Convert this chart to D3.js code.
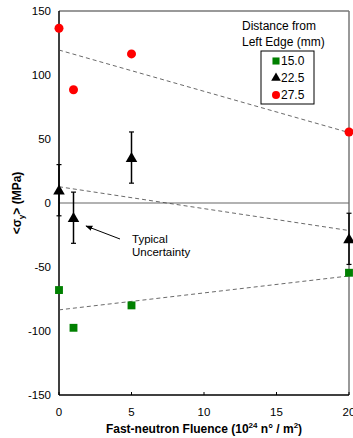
<!DOCTYPE html>
<meta charset="utf-8">
<style>
  body { margin: 0; background: #fff; }
  text { font-family: "Liberation Sans", Arial, sans-serif; fill: #000; }
  .tick-label { font-size: 11.5px; }
  .axis-title { font-size: 12px; font-weight: bold; }
  .legend-text { font-size: 12px; }
</style>
<svg width="353" height="438"></svg>
<script src="https://d3js.org/d3.v7.min.js"></script>
<script>

  // data
  var fluence = [0, 1, 5, 20];
  var s150 = [-68, -97.5, -80, -54.5];
  var s225 = [10, -11.5, 35.5, -28];
  var s225err = [20, 20, 20, 20];
  var s275 = [136.5, 88.5, 116.5, 55.5];
  // dashed linear fits, values at x = 0 and x = 20
  var fit150 = [-83.5, -57];
  var fit225 = [12.7, -21.5];
  var fit275 = [119.5, 55];
  var xTicks = [0, 5, 10, 15, 20];
  var yTicks = [-150, -100, -50, 0, 50, 100, 150];
  var legendNames = ["15.0", "22.5", "27.5"];

  var svg = d3.select("svg"),
      pl = 59, pr = 349, pt = 11, pb = 395;

  var x = d3.scaleLinear().domain([0, 20]).range([pl, pr]);
  var y = d3.scaleLinear().domain([-150, 150]).range([pb, pt]);

  // frame
  svg.append("line").attr("x1", pl).attr("x2", pr).attr("y1", pt).attr("y2", pt)
      .attr("stroke", "#777").attr("stroke-width", 1.5);
  svg.append("line").attr("x1", pr).attr("x2", pr).attr("y1", pt).attr("y2", pb)
      .attr("stroke", "#777").attr("stroke-width", 1.5);
  svg.append("line").attr("x1", pl).attr("x2", pr).attr("y1", y(0)).attr("y2", y(0))
      .attr("stroke", "#666").attr("stroke-width", 1.2);

  // axes
  svg.append("line").attr("x1", pl).attr("x2", pl).attr("y1", pt).attr("y2", pb)
      .attr("stroke", "#000").attr("stroke-width", 1.5);
  svg.append("line").attr("x1", pl).attr("x2", pr).attr("y1", pb).attr("y2", pb)
      .attr("stroke", "#000").attr("stroke-width", 1.5);

  svg.selectAll(".xtick").data(xTicks).enter().append("line")
      .attr("x1", function (d) { return x(d); }).attr("x2", function (d) { return x(d); })
      .attr("y1", pb).attr("y2", pb - 3)
      .attr("stroke", "#000");

  svg.selectAll(".xlab").data(xTicks).enter().append("text")
      .attr("class", "tick-label")
      .attr("x", function (d) { return x(d); }).attr("y", 416)
      .attr("text-anchor", "middle")
      .text(function (d) { return d; });

  svg.selectAll(".ylab").data(yTicks).enter().append("text")
      .attr("class", "tick-label")
      .attr("x", 51).attr("y", function (d) { return y(d) + 4; })
      .attr("text-anchor", "end")
      .text(function (d) { return d; });

  // axis titles
  var xt = svg.append("text").attr("class", "axis-title")
      .attr("x", 204).attr("y", 433).attr("text-anchor", "middle");
  xt.append("tspan").text("Fast-neutron Fluence (10");
  xt.append("tspan").attr("dy", -5).attr("font-size", 8).text("24");
  xt.append("tspan").attr("dy", 5).text(" n\u00b0 / m");
  xt.append("tspan").attr("dy", -5).attr("font-size", 8).text("2");
  xt.append("tspan").attr("dy", 5).text(")");

  var yt = svg.append("text").attr("class", "axis-title")
      .attr("transform", "translate(21," + y(0) + ") rotate(-90)")
      .attr("text-anchor", "middle");
  yt.append("tspan").text("<\u03c3");
  yt.append("tspan").attr("dy", 3).attr("font-size", 8).text("y");
  yt.append("tspan").attr("dy", -3).text("> (MPa)");

  // fit lines
  [fit150, fit225, fit275].forEach(function (f) {
    svg.append("line")
        .attr("x1", x(0)).attr("y1", y(f[0]))
        .attr("x2", x(20)).attr("y2", y(f[1]))
        .attr("stroke", "#444").attr("stroke-width", 0.8)
        .attr("stroke-dasharray", "4,3");
  });

  // error bars for 22.5
  var eb = svg.selectAll(".err").data(fluence).enter().append("g");
  eb.append("line")
      .attr("x1", function (d) { return x(d); }).attr("x2", function (d) { return x(d); })
      .attr("y1", function (d, i) { return y(s225[i] + s225err[i]); })
      .attr("y2", function (d, i) { return y(s225[i] - s225err[i]); })
      .attr("stroke", "#000").attr("stroke-width", 1.5);
  [1, -1].forEach(function (sgn) {
    eb.append("line")
        .attr("x1", function (d) { return x(d) - 2.5; }).attr("x2", function (d) { return x(d) + 2.5; })
        .attr("y1", function (d, i) { return y(s225[i] + sgn * s225err[i]); })
        .attr("y2", function (d, i) { return y(s225[i] + sgn * s225err[i]); })
        .attr("stroke", "#000").attr("stroke-width", 1.2);
  });

  var square = d3.symbol().type(d3.symbolSquare).size(62);
  var tri = d3.symbol().type(d3.symbolTriangle).size(58);

  svg.selectAll(".sq").data(fluence).enter().append("path")
      .attr("d", square)
      .attr("transform", function (d, i) { return "translate(" + x(d) + "," + y(s150[i]) + ")"; })
      .attr("fill", "#008000");

  svg.selectAll(".tr").data(fluence).enter().append("path")
      .attr("d", tri)
      .attr("transform", function (d, i) { return "translate(" + x(d) + "," + (y(s225[i]) + 1) + ")"; })
      .attr("fill", "#000");

  svg.selectAll(".ci").data(fluence).enter().append("circle")
      .attr("cx", function (d) { return x(d); })
      .attr("cy", function (d, i) { return y(s275[i]); })
      .attr("r", 4.5)
      .attr("fill", "#ff0000");

  // annotation
  svg.append("defs").append("marker")
      .attr("id", "ah").attr("viewBox", "0 0 10 10")
      .attr("refX", 9).attr("refY", 5)
      .attr("markerWidth", 7).attr("markerHeight", 7)
      .attr("orient", "auto")
      .append("path").attr("d", "M0,1 L10,5 L0,9 z").attr("fill", "#000");
  svg.append("line")
      .attr("x1", 120).attr("y1", 239).attr("x2", 86).attr("y2", 226)
      .attr("stroke", "#000").attr("stroke-width", 1)
      .attr("marker-end", "url(#ah)");
  svg.append("text").attr("class", "tick-label").attr("x", 132).attr("y", 243).text("Typical");
  svg.append("text").attr("class", "tick-label").attr("x", 132).attr("y", 256).text("Uncertainty");

  // legend
  svg.append("text").attr("class", "legend-text").attr("x", 242).attr("y", 30).text("Distance from");
  svg.append("text").attr("class", "legend-text").attr("x", 242).attr("y", 46).text("Left Edge (mm)");
  svg.append("rect").attr("x", 261).attr("y", 51).attr("width", 53).attr("height", 53)
      .attr("fill", "#fff").attr("stroke", "#000").attr("stroke-width", 1);

  var lg = svg.selectAll(".lg").data(legendNames).enter().append("g")
      .attr("transform", function (d, i) { return "translate(0," + (61 + i * 17) + ")"; });
  lg.append("text").attr("class", "legend-text").attr("x", 281).attr("y", 4)
      .text(function (d) { return d; });
  lg.filter(function (d, i) { return i === 0; }).append("path")
      .attr("d", d3.symbol().type(d3.symbolSquare).size(50))
      .attr("transform", "translate(276,0)").attr("fill", "#008000");
  lg.filter(function (d, i) { return i === 1; }).append("path")
      .attr("d", d3.symbol().type(d3.symbolTriangle).size(40))
      .attr("transform", "translate(276,0)").attr("fill", "#000");
  lg.filter(function (d, i) { return i === 2; }).append("circle")
      .attr("cx", 276).attr("cy", 0).attr("r", 4).attr("fill", "#ff0000");

</script>
